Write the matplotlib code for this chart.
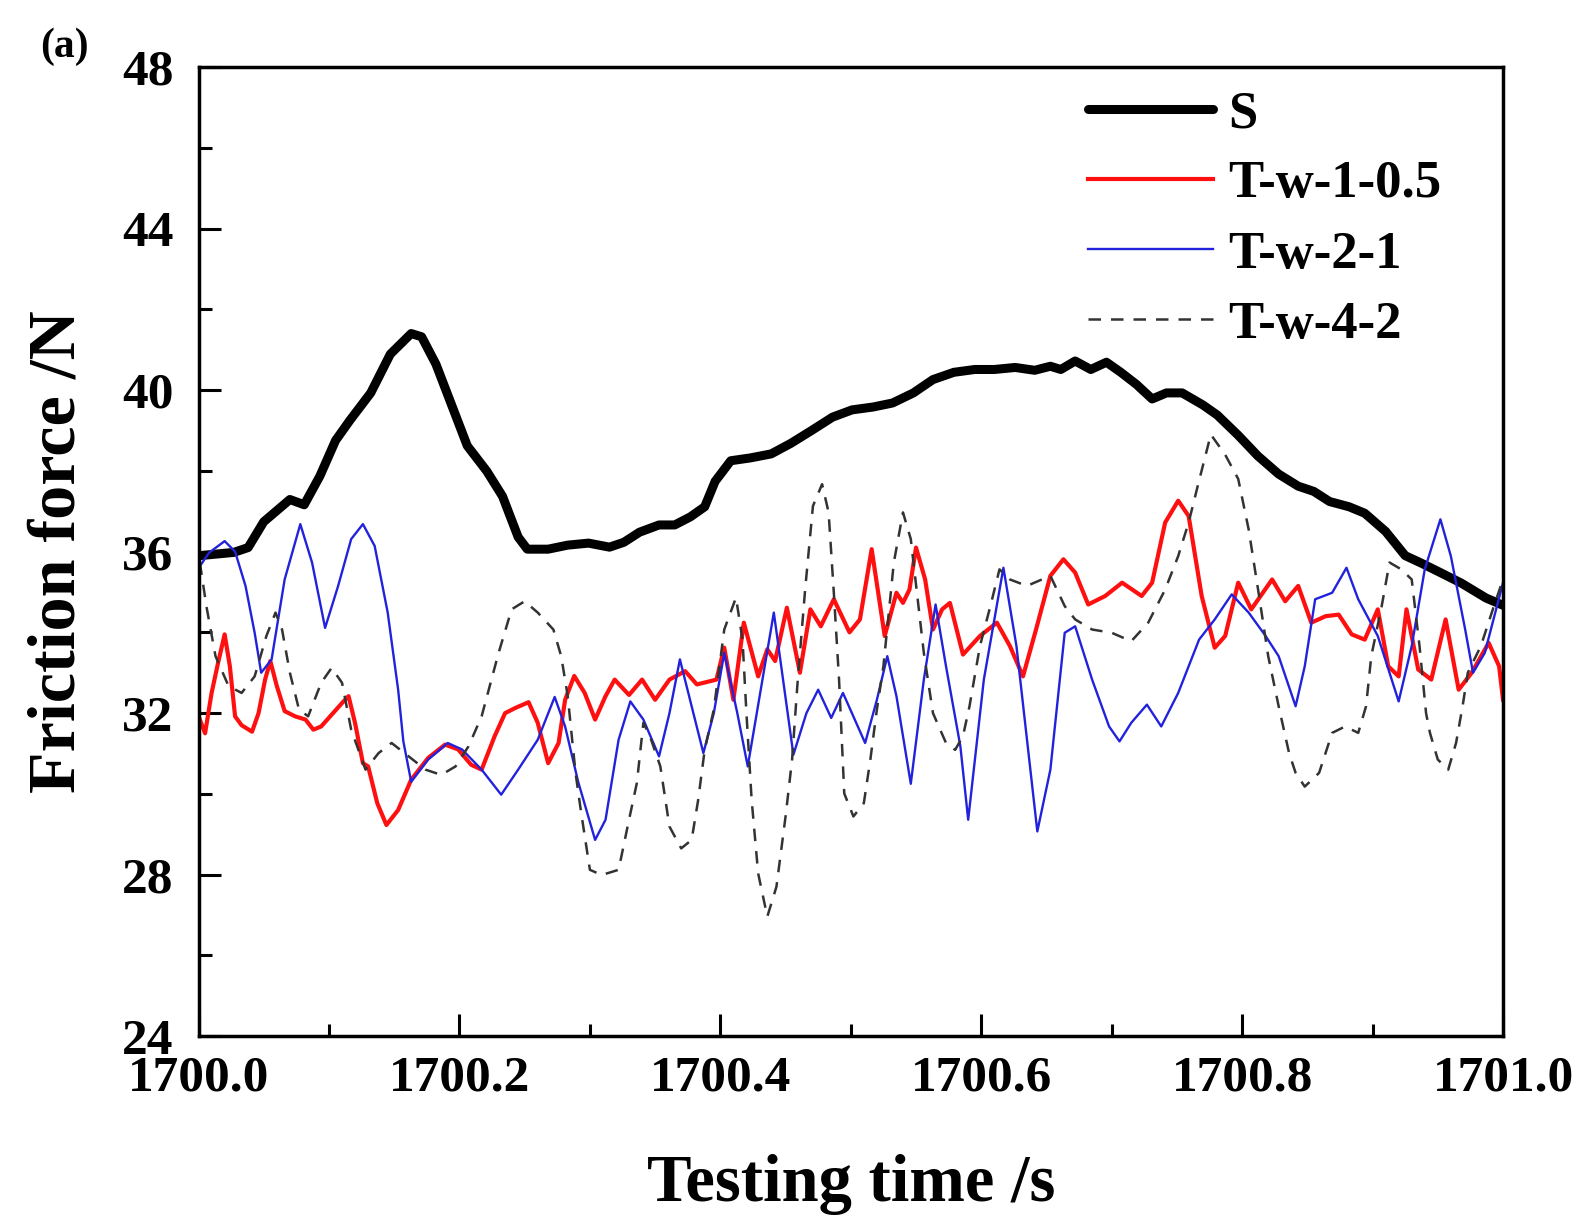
import matplotlib
matplotlib.use("Agg")
import matplotlib.pyplot as plt
from matplotlib.ticker import MultipleLocator, FormatStrFormatter
import numpy as np

plt.rcParams['font.family'] = ['Liberation Serif', 'DejaVu Serif']
plt.rcParams['font.weight'] = 'bold'

# time offsets (s after 1700) and friction force (N)
t_s = [0.001, 0.027, 0.038, 0.050, 0.070, 0.081, 0.093, 0.105, 0.116, 0.132, 0.147, 0.163,
       0.171, 0.182, 0.194, 0.206, 0.221, 0.233, 0.245, 0.252, 0.268, 0.283, 0.299, 0.315,
       0.326, 0.338, 0.353, 0.365, 0.377, 0.388, 0.396, 0.408, 0.423, 0.439, 0.454, 0.470,
       0.486, 0.501, 0.517, 0.532, 0.548, 0.563, 0.579, 0.595, 0.610, 0.626, 0.641, 0.653,
       0.661, 0.672, 0.684, 0.696, 0.707, 0.719, 0.731, 0.742, 0.754, 0.770, 0.781, 0.797,
       0.812, 0.828, 0.843, 0.855, 0.867, 0.882, 0.894, 0.910, 0.925, 0.937, 0.952, 0.968,
       0.987, 1.000]
f_s = [35.9, 35.98, 36.1, 36.74, 37.29, 37.16, 37.87, 38.75, 39.25, 39.93, 40.89, 41.4,
       41.32, 40.64, 39.63, 38.62, 37.99, 37.37, 36.36, 36.06, 36.06, 36.16, 36.21, 36.11,
       36.23, 36.48, 36.66, 36.66, 36.86, 37.11, 37.74, 38.25, 38.32, 38.42, 38.68, 39.0,
       39.33, 39.51, 39.58, 39.68, 39.93, 40.26, 40.44, 40.51, 40.51, 40.56, 40.49, 40.59,
       40.51, 40.72, 40.51, 40.69, 40.44, 40.14, 39.78, 39.93, 39.93, 39.63, 39.38, 38.88,
       38.37, 37.92, 37.62, 37.49, 37.24, 37.11, 36.95, 36.5, 35.9, 35.72, 35.48, 35.22,
       34.85, 34.67]

t_r = [0.001, 0.005, 0.010, 0.015, 0.020, 0.024, 0.028, 0.033, 0.041, 0.046, 0.051, 0.055,
       0.060, 0.066, 0.074, 0.082, 0.088, 0.094, 0.102, 0.110, 0.115, 0.120, 0.126, 0.130,
       0.137, 0.144, 0.153, 0.163, 0.176, 0.189, 0.199, 0.209, 0.217, 0.227, 0.235, 0.243,
       0.253, 0.260, 0.268, 0.276, 0.281, 0.288, 0.296, 0.304, 0.312, 0.319, 0.330, 0.340,
       0.350, 0.361, 0.373, 0.382, 0.392, 0.397, 0.403, 0.410, 0.418, 0.429, 0.436, 0.442,
       0.451, 0.461, 0.469, 0.477, 0.487, 0.499, 0.507, 0.516, 0.526, 0.535, 0.540, 0.545,
       0.550, 0.557, 0.563, 0.570, 0.576, 0.586, 0.599, 0.612, 0.622, 0.632, 0.642, 0.653,
       0.663, 0.672, 0.682, 0.695, 0.708, 0.723, 0.731, 0.741, 0.751, 0.759, 0.769, 0.779,
       0.787, 0.797, 0.807, 0.823, 0.833, 0.843, 0.853, 0.864, 0.874, 0.884, 0.894, 0.904,
       0.912, 0.920, 0.926, 0.935, 0.945, 0.956, 0.966, 0.976, 0.989, 0.997, 1.000]
f_r = [31.84, 31.5, 32.5, 33.25, 33.95, 33.16, 31.92, 31.7, 31.54, 32.0, 32.83, 33.29,
       32.67, 32.05, 31.92, 31.84, 31.59, 31.67, 31.96, 32.25, 32.42, 31.75, 30.76, 30.68,
       29.77, 29.23, 29.6, 30.35, 30.89, 31.22, 31.1, 30.72, 30.6, 31.43, 32.0, 32.13,
       32.27, 31.76, 30.76, 31.26, 32.33, 32.92, 32.5, 31.84, 32.42, 32.83, 32.45, 32.83,
       32.33, 32.83, 33.04, 32.71, 32.79, 32.83, 33.62, 32.33, 34.24, 32.91, 33.58, 33.29,
       34.61, 33.0, 34.57, 34.15, 34.82, 34.0, 34.32, 36.06, 33.91, 34.98, 34.73, 35.06,
       36.1, 35.31, 34.07, 34.57, 34.73, 33.45, 33.91, 34.24, 33.66, 32.91, 34.07, 35.4,
       35.81, 35.48, 34.69, 34.9, 35.23, 34.9, 35.23, 36.72, 37.26, 36.88, 34.9, 33.62,
       33.91, 35.23, 34.57, 35.31, 34.77, 35.15, 34.24, 34.4, 34.44, 33.95, 33.82, 34.57,
       33.16, 32.91, 34.57, 33.08, 32.83, 34.32, 32.58, 33.0, 33.74, 33.16, 32.33]

t_b = [0.001, 0.008, 0.020, 0.028, 0.036, 0.043, 0.048, 0.056, 0.066, 0.078, 0.087, 0.097,
       0.107, 0.117, 0.126, 0.135, 0.145, 0.153, 0.157, 0.163, 0.176, 0.191, 0.202, 0.217,
       0.232, 0.245, 0.260, 0.273, 0.281, 0.291, 0.304, 0.312, 0.322, 0.331, 0.341, 0.353,
       0.361, 0.369, 0.378, 0.387, 0.395, 0.403, 0.413, 0.421, 0.441, 0.456, 0.466, 0.475,
       0.485, 0.494, 0.511, 0.520, 0.528, 0.535, 0.546, 0.556, 0.565, 0.573, 0.584, 0.590,
       0.602, 0.617, 0.627, 0.643, 0.653, 0.664, 0.672, 0.685, 0.698, 0.706, 0.715, 0.727,
       0.738, 0.751, 0.767, 0.779, 0.792, 0.805, 0.818, 0.828, 0.841, 0.848, 0.856, 0.869,
       0.880, 0.889, 0.904, 0.920, 0.930, 0.940, 0.952, 0.960, 0.971, 0.977, 0.986, 0.996,
       1.000]
f_b = [35.64, 35.97, 36.26, 36.0, 35.15, 33.99, 33.0, 33.33, 35.31, 36.68, 35.73, 34.11,
       35.15, 36.31, 36.68, 36.14, 34.49, 32.58, 31.3, 30.3, 30.85, 31.26, 31.1, 30.6,
       29.98, 30.6, 31.34, 32.4, 31.67, 30.3, 28.86, 29.36, 31.34, 32.29, 31.84, 30.93,
       32.0, 33.33, 32.17, 31.01, 32.0, 33.49, 32.0, 30.68, 34.49, 30.97, 32.0, 32.58,
       31.88, 32.5, 31.26, 32.33, 33.41, 32.42, 30.25, 32.83, 34.69, 33.16, 31.18, 29.36,
       32.83, 35.6, 33.66, 29.07, 30.6, 33.99, 34.15, 32.83, 31.67, 31.3, 31.76, 32.21,
       31.67, 32.5, 33.82, 34.32, 34.94, 34.49, 33.91, 33.41, 32.17, 33.16, 34.82, 34.98,
       35.6, 34.82, 33.91, 32.29, 33.66, 35.56, 36.8, 35.89, 34.07, 33.0, 33.49, 34.73,
       35.23]

t_d = [0.001, 0.006, 0.013, 0.023, 0.033, 0.043, 0.052, 0.059, 0.064, 0.070, 0.077, 0.084,
       0.094, 0.102, 0.110, 0.117, 0.128, 0.138, 0.148, 0.161, 0.174, 0.186, 0.197, 0.207,
       0.217, 0.230, 0.240, 0.250, 0.260, 0.272, 0.278, 0.283, 0.289, 0.293, 0.300, 0.309,
       0.322, 0.330, 0.336, 0.341, 0.346, 0.354, 0.361, 0.370, 0.378, 0.383, 0.388, 0.395,
       0.403, 0.412, 0.417, 0.420, 0.424, 0.429, 0.436, 0.443, 0.450, 0.455, 0.459, 0.465,
       0.471, 0.478, 0.483, 0.487, 0.491, 0.495, 0.502, 0.510, 0.515, 0.520, 0.525, 0.533,
       0.540, 0.546, 0.551, 0.556, 0.563, 0.573, 0.580, 0.586, 0.591, 0.599, 0.607, 0.614,
       0.622, 0.635, 0.653, 0.664, 0.672, 0.685, 0.700, 0.715, 0.728, 0.741, 0.751, 0.759,
       0.766, 0.776, 0.787, 0.797, 0.805, 0.813, 0.820, 0.828, 0.836, 0.841, 0.848, 0.859,
       0.869, 0.879, 0.889, 0.895, 0.899, 0.907, 0.913, 0.922, 0.930, 0.936, 0.941, 0.944,
       0.950, 0.958, 0.964, 0.969, 0.973, 0.983, 0.993, 1.000]
f_d = [35.73, 34.65, 33.41, 32.67, 32.5, 32.91, 33.91, 34.49, 34.07, 33.0, 32.09, 31.92,
       32.75, 33.12, 32.75, 31.59, 30.6, 31.01, 31.26, 30.93, 30.6, 30.47, 30.68, 31.18,
       31.92, 33.49, 34.57, 34.77, 34.49, 34.07, 33.41, 32.42, 30.52, 29.6, 28.12, 27.99,
       28.12, 29.36, 30.27, 31.76, 31.43, 30.68, 29.19, 28.65, 28.86, 29.85, 31.09, 32.09,
       34.07, 34.86, 33.82, 32.0, 29.85, 28.03, 26.96, 27.7, 29.44, 30.85, 32.67, 35.06,
       37.13, 37.67, 36.97, 34.98, 32.83, 30.01, 29.44, 29.77, 30.85, 32.09, 33.16, 35.73,
       36.97, 36.31, 34.9, 33.49, 32.0, 31.26, 31.09, 31.43, 32.17, 33.66, 34.65, 35.56,
       35.31, 35.15, 35.4, 34.65, 34.32, 34.07, 33.99, 33.78, 34.24, 35.06, 35.89, 36.72,
       37.63, 38.9, 38.4, 37.8, 36.55, 34.9, 33.41, 32.17, 31.01, 30.52, 30.18, 30.52,
       31.51, 31.67, 31.51, 32.17, 33.41, 34.65, 35.73, 35.56, 35.31, 33.66, 32.0, 31.51,
       30.85, 30.6, 31.26, 32.17, 33.0, 33.66, 34.65, 35.31]

labels = ['S', 'T-w-1-0.5', 'T-w-2-1', 'T-w-4-2']

fig = plt.figure(figsize=(15.91, 12.19), dpi=100)
ax = fig.add_axes([0.1248, 0.150, 0.8199, 0.795])

t0 = 1700.0
ax.plot(t0 + np.array(t_s), f_s, color='black', lw=6.5, label=labels[0], solid_capstyle='round')
ax.plot(t0 + np.array(t_r), f_r, color='#ff1010', lw=3, label=labels[1])
ax.plot(t0 + np.array(t_b), f_b, color='#2222dd', lw=1.7, label=labels[2])
ax.plot(t0 + np.array(t_d), f_d, color='#333333', lw=1.8, ls=(0, (5, 4)), label=labels[3])

ax.set_xlim(1700.0, 1701.0)
ax.set_ylim(24, 48)
ax.xaxis.set_major_locator(MultipleLocator(0.2))
ax.xaxis.set_minor_locator(MultipleLocator(0.1))
ax.yaxis.set_major_locator(MultipleLocator(4))
ax.yaxis.set_minor_locator(MultipleLocator(2))
ax.xaxis.set_major_formatter(FormatStrFormatter('%.1f'))

ax.tick_params(which='both', direction='in', top=False, right=False, width=2.2, labelsize=37)
ax.tick_params(which='major', length=16)
ax.tick_params(which='minor', length=9)
ax.tick_params(axis='x', pad=14)
ax.tick_params(axis='y', pad=18)
for lab in ax.get_xticklabels() + ax.get_yticklabels():
    lab.set_fontweight('bold')
for sp in ax.spines.values():
    sp.set_linewidth(2.5)

ax.set_xlabel('Testing time /s', fontsize=48, fontweight='bold', labelpad=38)
ax.set_ylabel('Friction force /N', fontsize=49, fontweight='bold', labelpad=24)

leg = ax.legend(loc='upper left', bbox_to_anchor=(0.682, 0.976), frameon=False,
                handlelength=2.37, handletextpad=0.28, labelspacing=0.42,
                borderpad=0, borderaxespad=0,
                prop={'weight': 'bold', 'size': 38})

fig.text(0.025, 0.962, '(a)', fontsize=30, fontweight='bold', ha='left', va='center')

fig.savefig('out.png', dpi=100)
